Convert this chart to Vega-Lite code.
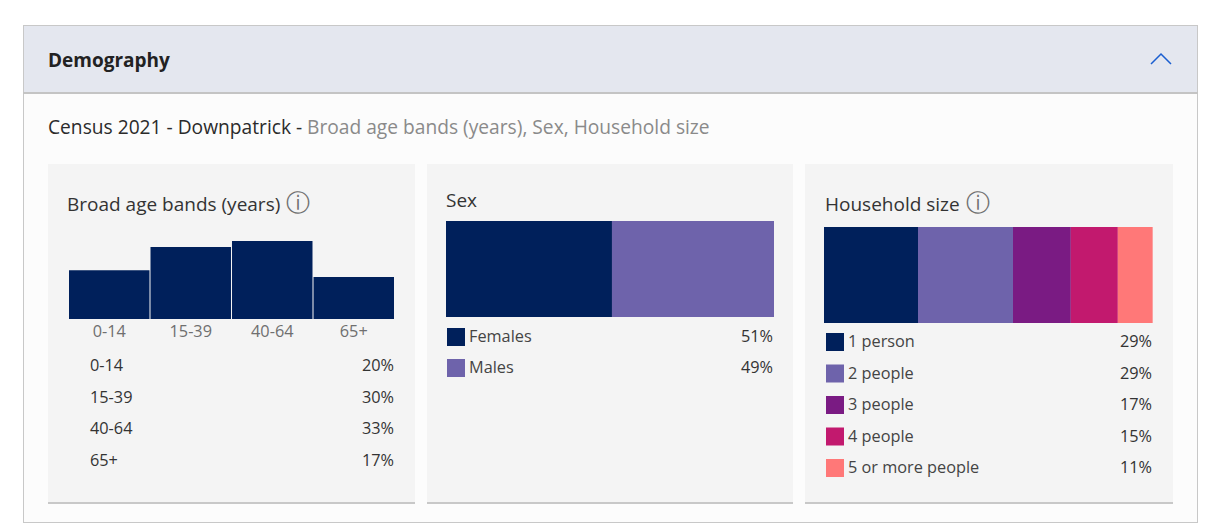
{"$schema":"https://vega.github.io/schema/vega-lite/v6.json","padding":{"left":22,"top":24,"right":17,"bottom":9},"background":"#ffffff","config":{"view":{"stroke":null},"concat":{"spacing":-1},"font":"Open Sans","text":{"font":"Open Sans"}},"resolve":{"scale":{"color":"independent"}},"datasets":{"one":[{"k":"a"}],"info":[{"icon":"ⓘ"}],"age":[{"band":"0-14","share":20.6,"pct":"20%"},{"band":"15-39","share":30.5,"pct":"30%"},{"band":"40-64","share":33,"pct":"33%"},{"band":"65+","share":17.8,"pct":"17%"}],"sex":[{"cat":"Females","share":50.6,"pct":"51%"},{"cat":"Males","share":49.4,"pct":"49%"}],"hh":[{"cat":"1 person","share":28.6,"pct":"29%"},{"cat":"2 people","share":28.9,"pct":"29%"},{"cat":"3 people","share":17.6,"pct":"17%"},{"cat":"4 people","share":14.3,"pct":"15%"},{"cat":"5 or more people","share":10.6,"pct":"11%"}],"sub":[{"dark":"Census 2021 - Downpatrick -","grey":"Broad age bands (years), Sex, Household size"}]},
"vconcat":[
{"width":1175,"height":1,"view":{"fill":"#c8c8c8"},"data":{"name":"one"},"mark":{"type":"rule","opacity":0},"encoding":{}},
{"hconcat":[
{"width":1,"height":66,"view":{"fill":"#c8c8c8"},"data":{"name":"one"},"mark":{"type":"rule","opacity":0},"encoding":{}},
{"width":1173,"height":66,"view":{"fill":"#e4e7ef"},"title":{"text":"Demography","anchor":"start","frame":"group","offset":-45,"dx":24,"fontSize":19,"fontWeight":"bold","font":"Open Sans","color":"#222222"},"data":{"name":"one"},"mark":{"type":"point","shape":"M-1,0.5L0,-0.5L1,0.5","filled":false,"stroke":"#1a5fd0","strokeWidth":1.5,"size":400,"opacity":1},"encoding":{"x":{"datum":1,"type":"quantitative","scale":{"domain":[0,1],"range":[0,1137]},"axis":null}}},
{"width":1,"height":66,"view":{"fill":"#c8c8c8"},"data":{"name":"one"},"mark":{"type":"rule","opacity":0},"encoding":{}}
]},
{"width":1175,"height":2,"view":{"fill":"#c4c4c4"},"data":{"name":"one"},"mark":{"type":"rule","opacity":0},"encoding":{}},
{"hconcat":[
{"width":1,"height":70,"view":{"fill":"#c8c8c8"},"data":{"name":"one"},"mark":{"type":"rule","opacity":0},"encoding":{}},
{"width":1173,"height":70,"view":{"fill":"#fcfcfc"},"data":{"name":"sub"},"layer":[
{"mark":{"type":"text","align":"left","baseline":"middle","fontSize":19.2,"color":"#2b2b2b","dy":-1},"encoding":{"text":{"field":"dark"},"x":{"datum":0,"type":"quantitative","scale":{"domain":[0,1],"range":[24,1173]},"axis":null}}},
{"mark":{"type":"text","align":"left","baseline":"middle","fontSize":19.2,"color":"#8a8a8a","dy":-1,"dx":259},"encoding":{"text":{"field":"grey"},"x":{"datum":0,"type":"quantitative","scale":{"domain":[0,1],"range":[24,1173]},"axis":null}}}
]},
{"width":1,"height":70,"view":{"fill":"#c8c8c8"},"data":{"name":"one"},"mark":{"type":"rule","opacity":0},"encoding":{}}
]},
{"hconcat":[
{"width":1,"height":340,"view":{"fill":"#c8c8c8"},"data":{"name":"one"},"mark":{"type":"rule","opacity":0},"encoding":{}},
{"width":24,"height":340,"view":{"fill":"#fcfcfc"},"data":{"name":"one"},"mark":{"type":"rule","opacity":0},"encoding":{}},
{"vconcat":[
{"width":367,"height":338,"view":{"fill":"#f4f4f4"},"title":{"text":"Broad age bands (years)","anchor":"start","frame":"group","offset":-51,"dx":19,"fontSize":19,"fontWeight":"normal","font":"Open Sans","color":"#333333"},"data":{"name":"age"},"resolve":{"scale":{"x":"independent","y":"independent"}},"layer":[
{"data":{"name":"info"},"mark":{"type":"text","fontSize":24,"color":"#6f6f6f","baseline":"middle","align":"center"},"encoding":{"text":{"field":"icon"},"x":{"datum":1,"type":"quantitative","scale":{"domain":[0,1],"range":[0,250]},"axis":null},"y":{"datum":1,"type":"quantitative","scale":{"domain":[0,1],"range":[0,40]},"axis":null}}},
{"mark":{"type":"bar","color":"#00205b"},"encoding":{"x":{"field":"band","type":"nominal","sort":null,"scale":{"type":"band","range":[21,346],"paddingInner":0.0125,"paddingOuter":0},"axis":null},"y":{"field":"share","type":"quantitative","scale":{"domain":[0,33],"range":[155,77]},"axis":null}}},
{"mark":{"type":"text","baseline":"top","fontSize":16.3,"color":"#6f6f6f","dy":5},"encoding":{"text":{"field":"band"},"x":{"field":"band","type":"nominal","sort":null,"scale":{"type":"band","range":[21,346],"paddingInner":0.0125,"paddingOuter":0},"axis":null},"y":{"datum":0,"type":"quantitative","scale":{"domain":[0,33],"range":[155,77]},"axis":null}}},
{"mark":{"type":"text","align":"left","baseline":"middle","fontSize":16.3,"color":"#333333"},"encoding":{"text":{"field":"band"},"x":{"datum":"label","type":"ordinal","scale":{"type":"point","domain":["label","value"],"range":[42,346],"padding":0},"axis":null},"y":{"field":"band","type":"ordinal","sort":null,"scale":{"type":"point","range":[202,297],"padding":0},"axis":null}}},
{"mark":{"type":"text","align":"right","baseline":"middle","fontSize":16.3,"color":"#333333"},"encoding":{"text":{"field":"pct"},"x":{"datum":"value","type":"ordinal","scale":{"type":"point","domain":["label","value"],"range":[42,346],"padding":0},"axis":null},"y":{"field":"band","type":"ordinal","sort":null,"scale":{"type":"point","range":[202,297],"padding":0},"axis":null}}}
]},
{"width":367,"height":2,"view":{"fill":"#c8c8c8"},"data":{"name":"one"},"mark":{"type":"rule","opacity":0},"encoding":{}}
]},
{"width":12,"height":340,"view":{"fill":"#fcfcfc"},"data":{"name":"one"},"mark":{"type":"rule","opacity":0},"encoding":{}},
{"vconcat":[
{"width":366,"height":338,"view":{"fill":"#f4f4f4"},"title":{"text":"Sex","anchor":"start","frame":"group","offset":-47,"dx":19,"fontSize":19,"fontWeight":"normal","font":"Open Sans","color":"#333333"},"data":{"name":"sex"},"resolve":{"scale":{"x":"independent","y":"independent","color":"independent"}},"layer":[
{"mark":{"type":"bar"},"encoding":{"x":{"field":"share","type":"quantitative","stack":"zero","scale":{"domain":[0,100],"range":[19,347]},"axis":null},"y":{"datum":"all","type":"nominal","scale":{"type":"band","domain":["all"],"range":[57,153],"paddingInner":0,"paddingOuter":0},"axis":null},"color":{"field":"cat","type":"nominal","scale":{"domain":["Females","Males"],"range":["#00205b","#6e63ab"]},"legend":null},"order":{"field":"cat"}}},
{"mark":{"type":"point","shape":"square","filled":true,"size":324,"opacity":1},"encoding":{"x":{"datum":"label","type":"ordinal","scale":{"type":"point","domain":["label","value"],"range":[29,346],"padding":0},"axis":null},"y":{"field":"cat","type":"ordinal","sort":null,"scale":{"type":"point","range":[173,204],"padding":0},"axis":null},"color":{"field":"cat","type":"nominal","scale":{"domain":["Females","Males"],"range":["#00205b","#6e63ab"]},"legend":null}}},
{"mark":{"type":"text","align":"left","baseline":"middle","fontSize":16.3,"color":"#444444","dx":13},"encoding":{"text":{"field":"cat"},"x":{"datum":"label","type":"ordinal","scale":{"type":"point","domain":["label","value"],"range":[29,346],"padding":0},"axis":null},"y":{"field":"cat","type":"ordinal","sort":null,"scale":{"type":"point","range":[173,204],"padding":0},"axis":null}}},
{"mark":{"type":"text","align":"right","baseline":"middle","fontSize":16.3,"color":"#333333"},"encoding":{"text":{"field":"pct"},"x":{"datum":"value","type":"ordinal","scale":{"type":"point","domain":["label","value"],"range":[29,346],"padding":0},"axis":null},"y":{"field":"cat","type":"ordinal","sort":null,"scale":{"type":"point","range":[173,204],"padding":0},"axis":null}}}
]},
{"width":366,"height":2,"view":{"fill":"#c8c8c8"},"data":{"name":"one"},"mark":{"type":"rule","opacity":0},"encoding":{}}
]},
{"width":12,"height":340,"view":{"fill":"#fcfcfc"},"data":{"name":"one"},"mark":{"type":"rule","opacity":0},"encoding":{}},
{"vconcat":[
{"width":368,"height":338,"view":{"fill":"#f4f4f4"},"title":{"text":"Household size","anchor":"start","frame":"group","offset":-51,"dx":20,"fontSize":19,"fontWeight":"normal","font":"Open Sans","color":"#333333"},"data":{"name":"hh"},"resolve":{"scale":{"x":"independent","y":"independent","color":"independent"}},"layer":[
{"data":{"name":"info"},"mark":{"type":"text","fontSize":24,"color":"#6f6f6f","baseline":"middle","align":"center"},"encoding":{"text":{"field":"icon"},"x":{"datum":1,"type":"quantitative","scale":{"domain":[0,1],"range":[0,173]},"axis":null},"y":{"datum":1,"type":"quantitative","scale":{"domain":[0,1],"range":[0,40]},"axis":null}}},
{"mark":{"type":"bar"},"encoding":{"x":{"field":"share","type":"quantitative","stack":"zero","scale":{"domain":[0,100.1],"range":[19,348]},"axis":null},"y":{"datum":"all","type":"nominal","scale":{"type":"band","domain":["all"],"range":[63,159],"paddingInner":0,"paddingOuter":0},"axis":null},"color":{"field":"cat","type":"nominal","scale":{"domain":["1 person","2 people","3 people","4 people","5 or more people"],"range":["#00205b","#6e63ab","#7a1b83","#c2196e","#ff7878"]},"legend":null},"order":{"field":"cat"}}},
{"mark":{"type":"point","shape":"square","filled":true,"size":324,"opacity":1},"encoding":{"x":{"datum":"label","type":"ordinal","scale":{"type":"point","domain":["label","value"],"range":[30,347],"padding":0},"axis":null},"y":{"field":"cat","type":"ordinal","sort":null,"scale":{"type":"point","range":[178,304],"padding":0},"axis":null},"color":{"field":"cat","type":"nominal","scale":{"domain":["1 person","2 people","3 people","4 people","5 or more people"],"range":["#00205b","#6e63ab","#7a1b83","#c2196e","#ff7878"]},"legend":null}}},
{"mark":{"type":"text","align":"left","baseline":"middle","fontSize":16.3,"color":"#444444","dx":13},"encoding":{"text":{"field":"cat"},"x":{"datum":"label","type":"ordinal","scale":{"type":"point","domain":["label","value"],"range":[30,347],"padding":0},"axis":null},"y":{"field":"cat","type":"ordinal","sort":null,"scale":{"type":"point","range":[178,304],"padding":0},"axis":null}}},
{"mark":{"type":"text","align":"right","baseline":"middle","fontSize":16.3,"color":"#333333"},"encoding":{"text":{"field":"pct"},"x":{"datum":"value","type":"ordinal","scale":{"type":"point","domain":["label","value"],"range":[30,347],"padding":0},"axis":null},"y":{"field":"cat","type":"ordinal","sort":null,"scale":{"type":"point","range":[178,304],"padding":0},"axis":null}}}
]},
{"width":368,"height":2,"view":{"fill":"#c8c8c8"},"data":{"name":"one"},"mark":{"type":"rule","opacity":0},"encoding":{}}
]},
{"width":24,"height":340,"view":{"fill":"#fcfcfc"},"data":{"name":"one"},"mark":{"type":"rule","opacity":0},"encoding":{}},
{"width":1,"height":340,"view":{"fill":"#c8c8c8"},"data":{"name":"one"},"mark":{"type":"rule","opacity":0},"encoding":{}}
]},
{"hconcat":[
{"width":1,"height":18,"view":{"fill":"#c8c8c8"},"data":{"name":"one"},"mark":{"type":"rule","opacity":0},"encoding":{}},
{"width":1173,"height":18,"view":{"fill":"#fcfcfc"},"data":{"name":"one"},"mark":{"type":"rule","opacity":0},"encoding":{}},
{"width":1,"height":18,"view":{"fill":"#c8c8c8"},"data":{"name":"one"},"mark":{"type":"rule","opacity":0},"encoding":{}}
]},
{"width":1175,"height":1,"view":{"fill":"#c8c8c8"},"data":{"name":"one"},"mark":{"type":"rule","opacity":0},"encoding":{}}
]}
